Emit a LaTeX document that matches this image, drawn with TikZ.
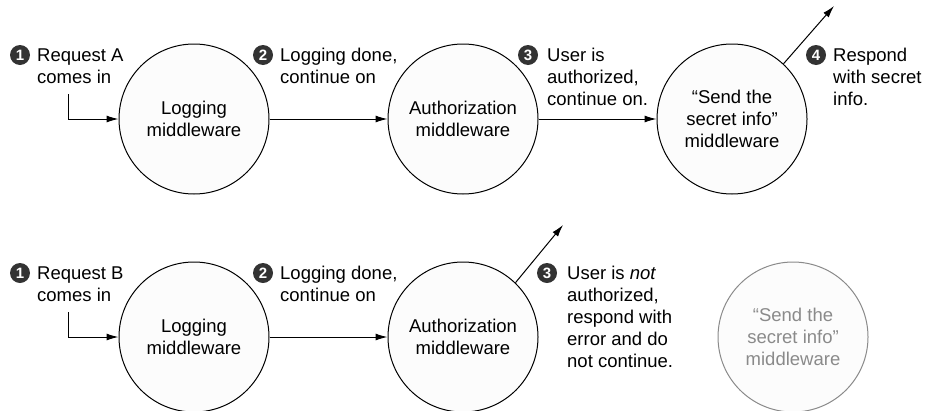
\documentclass[tikz,border=0pt]{standalone}
\usepackage{fontspec}
\setmainfont{Liberation Sans}
\usetikzlibrary{arrows.meta}
\definecolor{badgegray}{HTML}{333333}
\definecolor{circfill}{HTML}{FCFCFC}
\definecolor{dimgray}{HTML}{8A8A8A}
\tikzset{
  mw/.style={circle, draw=black, line width=1pt, fill=circfill, minimum size=150pt, inner sep=0pt, align=center, font=\fontsize{18.5}{22}\selectfont},
  mwdim/.style={mw, draw=dimgray, text=dimgray},
  badge/.style={circle, fill=badgegray, minimum size=20pt, inner sep=0pt, text=white, font=\fontsize{15}{15}\selectfont\bfseries},
  lbl/.style={anchor=base west, inner sep=0pt, font=\fontsize{18.5}{22}\selectfont},
  arr/.style={line width=1pt, -{Latex[length=12pt,width=7pt]}}
}
\newcommand{\lines}[1]{\begin{tabular}[t]{@{}l@{}}#1\end{tabular}}
\begin{document}
\begin{tikzpicture}[x=1pt,y=-1pt]
\useasboundingbox (0,0) rectangle (925,410);
% ---- top row ----
\node[mw] (logA) at (194,119) {Logging\\middleware};
\node[mw] (authA) at (463,119) {Authorization\\middleware};
\node[mw] (sendA) at (732,119) {“Send the\\secret info”\\middleware};
\coordinate (inA) at (68,94);
\coordinate (outA) at (834,6);
\draw[arr] (inA) |- (logA.west);
\draw[arr] (logA.east) -- (authA.west);
\draw[arr] (authA.east) -- (sendA.west);
\draw[arr] (sendA.47) -- (outA);
\node[badge] (bA1) at (20,55) {1};
\node[lbl] (tA1) at (37,61.5) {\lines{Request A\\comes in}};
\node[badge] (bA2) at (263,55) {2};
\node[lbl] (tA2) at (280,61.5) {\lines{Logging done,\\continue on}};
\node[badge] (bA3) at (528,55) {3};
\node[lbl] (tA3) at (547,61.5) {\lines{User is\\authorized,\\continue on.}};
\node[badge] (bA4) at (816,55) {4};
\node[lbl] (tA4) at (833,61.5) {\lines{Respond\\with secret\\info.}};
% ---- bottom row ----
\node[mw] (logB) at (194,337) {Logging\\middleware};
\node[mw] (authB) at (463,337) {Authorization\\middleware};
\node[mwdim] (sendB) at (793,337) {“Send the\\secret info”\\middleware};
\coordinate (inB) at (68,312);
\coordinate (outB) at (563,225);
\draw[arr] (inB) |- (logB.west);
\draw[arr] (logB.east) -- (authB.west);
\draw[arr] (authB.46) -- (outB);
\node[badge] (bB1) at (20,273) {1};
\node[lbl] (tB1) at (37,279.5) {\lines{Request B\\comes in}};
\node[badge] (bB2) at (263,273) {2};
\node[lbl] (tB2) at (280,279.5) {\lines{Logging done,\\continue on}};
\node[badge] (bB3) at (547,273) {3};
\node[lbl] (tB3) at (567,279.5) {\lines{User is \textit{not}\\authorized,\\respond with\\error and do\\not continue.}};
\end{tikzpicture}
\end{document}
